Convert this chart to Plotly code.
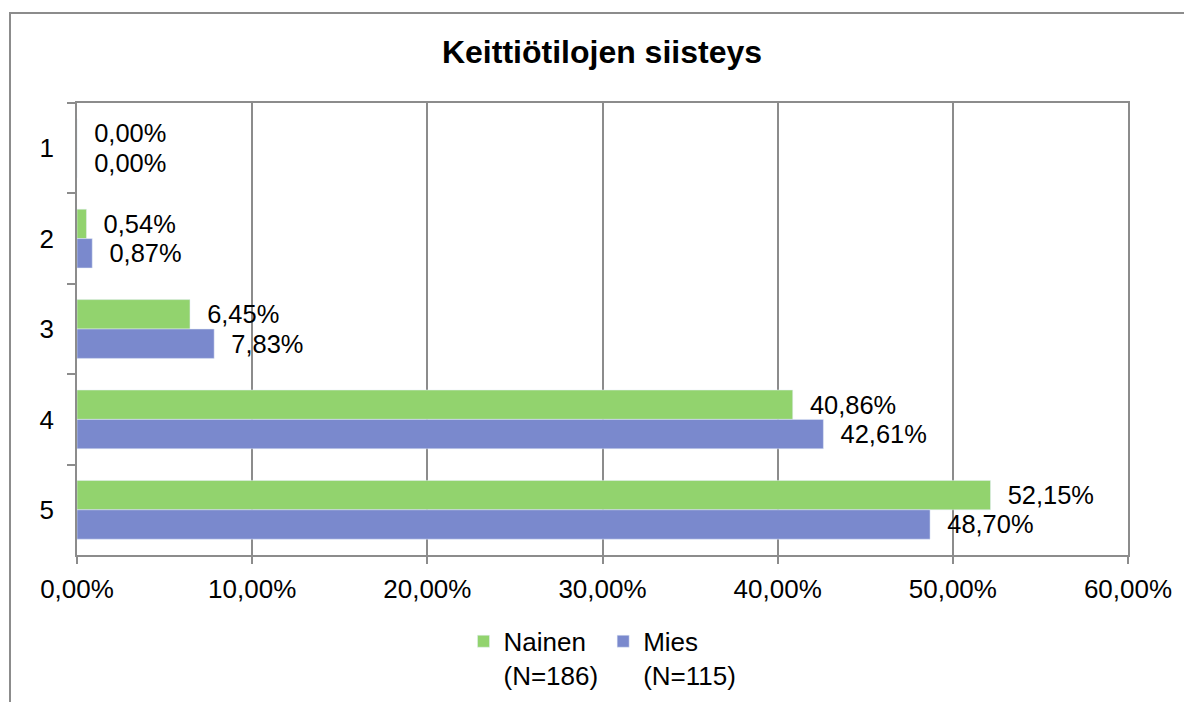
import plotly.graph_objects as go

categories = ["1", "2", "3", "4", "5"]
nainen = [0.00, 0.54, 6.45, 40.86, 52.15]
mies = [0.00, 0.87, 7.83, 42.61, 48.70]
series_names = ["Nainen<br>(N=186)", "Mies<br>(N=115)"]
x_ticks = [0, 10, 20, 30, 40, 50, 60]

def fmt(v):
    return "\u00a0\u00a0" + f"{v:.2f}".replace(".", ",") + "%"

font = "Liberation Sans, Arial, sans-serif"
FS = 26
fig = go.Figure()
fig.add_trace(go.Bar(y=categories, x=nainen, orientation="h", name=series_names[0],
                     marker_color="#92D36E", text=[fmt(v) for v in nainen],
                     textposition="outside", cliponaxis=False,
                     textfont=dict(size=FS, color="black", family=font)))
fig.add_trace(go.Bar(y=categories, x=mies, orientation="h", name=series_names[1],
                     marker_color="#7A89CD", text=[fmt(v) for v in mies],
                     textposition="outside", cliponaxis=False,
                     textfont=dict(size=FS, color="black", family=font)))

# page has an 8px body margin; compensate
OFF = 8
W, H = 1192 - OFF, 702 - OFF
L, T = 77 - OFF, 103 - OFF
R = W - (1128 - OFF)
B = H - (555 - OFF)
pw, ph = W - L - R, H - T - B
fig.update_layout(
    width=W, height=H,
    margin=dict(l=L, r=R, t=T, b=B, pad=0, autoexpand=False),
    paper_bgcolor="white", plot_bgcolor="white",
    separators=", ",
    barmode="group", bargap=0.35, bargroupgap=0,
    font=dict(family=font, size=FS, color="black"),
    title=dict(text="<b>Keittiötilojen siisteys</b>", x=(602 - OFF) / W, xref="container",
               xanchor="center", y=1 - (52 - OFF) / H, yanchor="middle",
               font=dict(size=32, family=font)),
    legend=dict(orientation="h", x=0.5, xanchor="center", y=-0.139, yanchor="top",
                font=dict(size=FS), traceorder="normal", valign="top"),
    showlegend=True,
)
fig.update_xaxes(range=[0, 60], tickvals=x_ticks,
                 ticktext=[f"{v:.2f}".replace(".", ",") + "%" for v in x_ticks],
                 showgrid=True, gridcolor="#8c8c8c", gridwidth=1.5,
                 showline=True, linecolor="#8c8c8c", linewidth=1.5, mirror=True,
                 ticks="outside", ticklen=7, tickcolor="#8c8c8c", tickwidth=1.5,
                 ticklabelstandoff=3,
                 zeroline=False, tickfont=dict(size=FS))
fig.update_yaxes(autorange="reversed", type="category",
                 showline=True, linecolor="#8c8c8c", linewidth=1.5, mirror=True,
                 ticks="outside", ticklen=8, tickcolor="#8c8c8c", tickwidth=1.5,
                 tickson="boundaries", ticklabelstandoff=16, showgrid=False,
                 tickfont=dict(size=FS))

# outer chart border
fig.add_shape(type="rect", xref="paper", yref="paper",
              x0=(10 - 77) / pw, x1=(1190.5 - 77) / pw,
              y0=-(B + 20) / ph, y1=1 + (103 - 13) / ph,
              line=dict(color="#8c8c8c", width=2), fillcolor="rgba(0,0,0,0)", layer="below")

fig.write_html("out.html")
